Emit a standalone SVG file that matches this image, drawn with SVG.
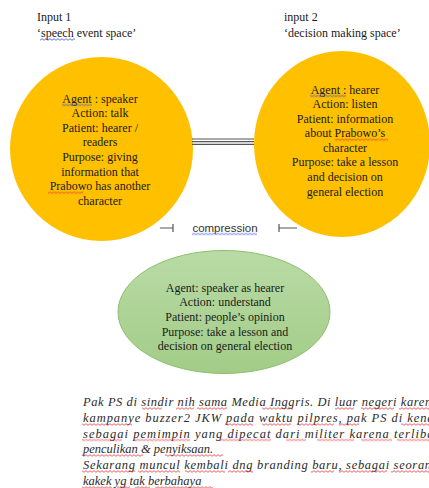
<svg xmlns="http://www.w3.org/2000/svg" width="429" height="488" viewBox="0 0 429 488">
<defs>
<linearGradient id="gg" x1="0" y1="0" x2="0" y2="1">
<stop offset="0" stop-color="#b9dba6"/>
<stop offset="1" stop-color="#a2cc87"/>
</linearGradient>
<pattern id="rz" width="4" height="3" patternUnits="userSpaceOnUse">
<polyline points="0,2.3 2,0.7 4,2.3" fill="none" stroke="#e8383d" stroke-width="0.8"/>
</pattern>
<pattern id="bz" width="4" height="3" patternUnits="userSpaceOnUse">
<polyline points="0,2.3 2,0.7 4,2.3" fill="none" stroke="#3a4fd8" stroke-width="0.8"/>
</pattern>
</defs>
<style>
.t{font-family:"Liberation Serif","Times New Roman",serif;font-size:12px;fill:#1a1a1a}
.c{text-anchor:middle}
.s{font-family:"Liberation Sans",Arial,sans-serif;font-size:11.5px;fill:#333}
.b{font-family:"Liberation Serif","Times New Roman",serif;font-size:12.5px;font-style:italic;fill:#2a2a2a}
.ln{stroke:#555;stroke-width:1.2;fill:none}
.r{fill:url(#rz)}
.u{fill:url(#bz)}
</style>
<rect width="429" height="488" fill="#fff"/>
<g id="input1-label">
<text class="t" x="37" y="21">Input 1</text>
<text class="t" x="37" y="37">‘<tspan>speech</tspan> event space’</text>
<g transform="translate(0,38)"><rect class="u" x="40" width="35" height="3"/></g>
</g>
<g id="input2-label">
<text class="t" x="284" y="21">input 2</text>
<text class="t" x="284" y="37">‘decision making space’</text>
</g>
<g id="input1">
<ellipse cx="101.5" cy="149" rx="91.5" ry="92" fill="#ffc000"/>
<text class="t c" x="100" y="102.5"><tspan>Agent :</tspan> speaker</text>
<text class="t c" x="100" y="117.2">Action: talk</text>
<text class="t c" x="100" y="131.8">Patient: hearer /</text>
<text class="t c" x="100" y="146.4">readers</text>
<text class="t c" x="100" y="161">Purpose: giving</text>
<text class="t c" x="100" y="175.6">information that</text>
<text class="t c" x="100" y="190.2"><tspan>Prabowo</tspan> has another</text>
<text class="t c" x="100" y="204.8">character</text>
<g transform="translate(0,103.5)"><rect class="u" x="62" width="30" height="3"/></g>
<g transform="translate(0,191.2)"><rect class="r" x="48" width="35" height="3"/></g>
</g>
<g id="input2">
<ellipse cx="342" cy="144" rx="88" ry="93" fill="#ffc000"/>
<text class="t c" x="345" y="93.5"><tspan>Agent :</tspan> hearer</text>
<text class="t c" x="345" y="108">Action: listen</text>
<text class="t c" x="345" y="122.6">Patient: information</text>
<text class="t c" x="345" y="137.2">about <tspan>Prabowo’s</tspan></text>
<text class="t c" x="345" y="151.8">character</text>
<text class="t c" x="345" y="166.4">Purpose: take a lesson</text>
<text class="t c" x="345" y="181">and decision on</text>
<text class="t c" x="345" y="195.6">general election</text>
<g transform="translate(0,94.5)"><rect class="u" x="310" width="36" height="3"/></g>
<g transform="translate(0,138.2)"><rect class="r" x="335" width="53" height="3"/></g>
</g>
<g id="connectors">
<line class="ln" x1="192" y1="139" x2="254" y2="139"/>
<line class="ln" x1="192" y1="141.7" x2="254" y2="141.7"/>
<line class="ln" x1="192" y1="144.4" x2="254" y2="144.4"/>
<path class="ln" d="M160 228H173M173 224V232"/>
<path class="ln" d="M279 224V232M279 228H297"/>
<text class="s" x="225" y="231.5" text-anchor="middle"><tspan>compression</tspan></text>
<g transform="translate(0,232.5)"><rect class="u" x="192" width="65" height="3"/></g>
</g>
<g id="blend">
<ellipse cx="224" cy="312" rx="106" ry="61.5" fill="url(#gg)" stroke="#8dbf6e" stroke-width="1"/>
<text class="t c" x="225" y="291.5">Agent: speaker as hearer</text>
<text class="t c" x="225" y="306.2">Action: understand</text>
<text class="t c" x="225" y="320.9">Patient: people’s opinion</text>
<text class="t c" x="225" y="335.6">Purpose: take a lesson and</text>
<text class="t c" x="225" y="350.3">decision on general election</text>
</g>
<g id="caption">
<text class="b" x="83" y="406" textLength="355" lengthAdjust="spacing">Pak PS di <tspan>sindir</tspan> <tspan>nih</tspan> <tspan>sama</tspan> Media <tspan>Inggris</tspan>. Di <tspan>luar</tspan> <tspan>negeri</tspan> <tspan>karena</tspan></text>
<text class="b" x="83" y="422" textLength="355" lengthAdjust="spacing"><tspan>kampanye</tspan> buzzer2 JKW <tspan>pada</tspan> <tspan>waktu</tspan> <tspan>pilpres</tspan>, <tspan>pak</tspan> PS di <tspan>kenal</tspan></text>
<text class="b" x="83" y="437.5" textLength="355" lengthAdjust="spacing"><tspan>sebagai</tspan> <tspan>pemimpin</tspan> yang <tspan>dipecat</tspan> <tspan>dari</tspan> <tspan>militer</tspan> <tspan>karena</tspan> <tspan>terlibat</tspan></text>
<text class="b" x="83" y="453"><tspan>penculikan</tspan> &amp; <tspan>penyiksaan</tspan>.</text>
<text class="b" x="83" y="469" textLength="355" lengthAdjust="spacing"><tspan>Sekarang</tspan> <tspan>muncul</tspan> <tspan>kembali</tspan> <tspan>dng</tspan> branding <tspan>baru</tspan>, <tspan>sebagai</tspan> <tspan>seorang</tspan></text>
<text class="b" x="83" y="485"><tspan>kakek</tspan> <tspan>yg</tspan> <tspan>tak</tspan> <tspan>berbahaya</tspan></text>
<g transform="translate(0,407)">
<rect class="r" x="142" width="20" height="3"/><rect class="r" x="176" width="18" height="3"/><rect class="r" x="197" width="30" height="3"/><rect class="r" x="262" width="31" height="3"/><rect class="r" x="335" width="19" height="3"/><rect class="r" x="361" width="33" height="3"/><rect class="r" x="399" width="30" height="3"/>
</g>
<g transform="translate(0,423)">
<rect class="r" x="82" width="50" height="3"/><rect class="r" x="225" width="28" height="3"/><rect class="r" x="262" width="29" height="3"/><rect class="r" x="297" width="37" height="3"/><rect class="r" x="339" width="20" height="3"/><rect class="r" x="401" width="28" height="3"/>
</g>
<g transform="translate(0,438.5)">
<rect class="r" x="82" width="40" height="3"/><rect class="r" x="133" width="57" height="3"/><rect class="r" x="220" width="51" height="3"/><rect class="r" x="286" width="20" height="3"/><rect class="r" x="317" width="37" height="3"/><rect class="r" x="361" width="31" height="3"/><rect class="r" x="397" width="32" height="3"/>
</g>
<g transform="translate(0,454)">
<rect class="r" x="82" width="61" height="3"/><rect class="r" x="165" width="58" height="3"/>
</g>
<g transform="translate(0,470)">
<rect class="r" x="82" width="53" height="3"/><rect class="r" x="138" width="42" height="3"/><rect class="r" x="185" width="40" height="3"/><rect class="r" x="228" width="25" height="3"/><rect class="r" x="311" width="23" height="3"/><rect class="r" x="339" width="48" height="3"/><rect class="r" x="391" width="38" height="3"/>
</g>
<g transform="translate(0,486)">
<rect class="r" x="82" width="30" height="3"/><rect class="r" x="117" width="13" height="3"/><rect class="r" x="135" width="15" height="3"/><rect class="r" x="155" width="58" height="3"/>
</g>
</g>
</svg>
